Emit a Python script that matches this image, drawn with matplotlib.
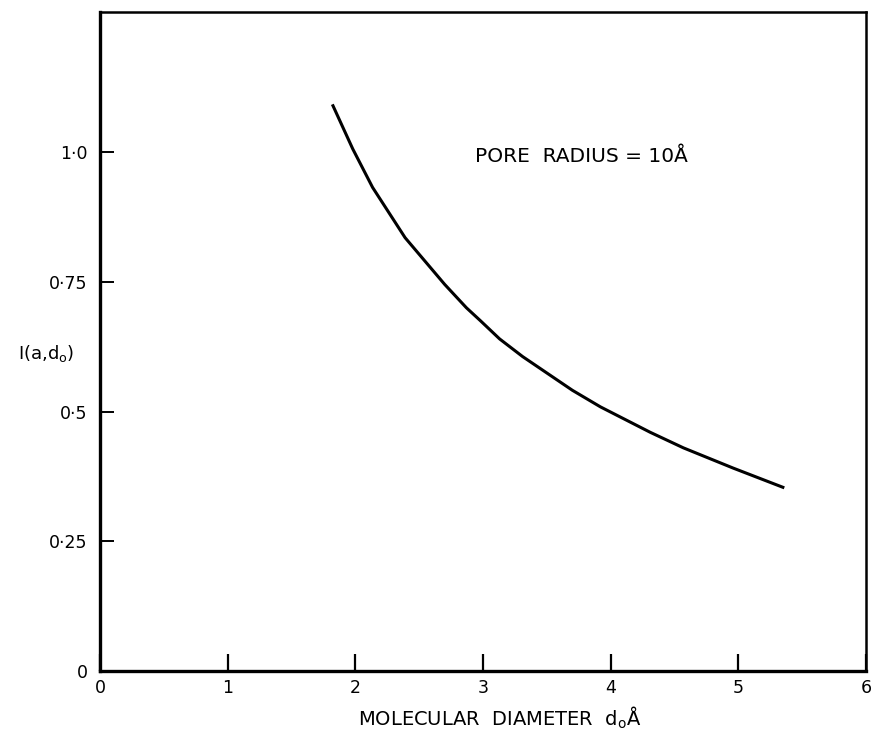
import matplotlib
matplotlib.use("Agg")
import matplotlib.pyplot as plt

# Data
diameter = [1.82, 1.98, 2.135, 2.39, 2.70, 2.87, 2.98, 3.13, 3.31, 3.70, 3.92, 4.31, 4.57, 4.96, 5.36]
intensity = [1.092, 1.006, 0.932, 0.835, 0.745, 0.700, 0.675, 0.640, 0.606, 0.541, 0.509, 0.460, 0.430, 0.391, 0.353]

x_ticks = [0, 1, 2, 3, 4, 5, 6]
x_tick_labels = ["0", "1", "2", "3", "4", "5", "6"]
y_ticks = [0, 0.25, 0.5, 0.75, 1.0]
y_tick_labels = ["0", "0·25", "0·5", "0·75", "1·0"]

plt.rcParams['font.family'] = ['DejaVu Sans']

W, H = 871, 735
fig = plt.figure(figsize=(W / 100, H / 100), dpi=100)
left, right = 100 / W, 866 / W
bottom, top = 1 - 671 / H, 1 - 12 / H
ax = fig.add_axes([left, bottom, right - left, top - bottom])

ax.plot(diameter, intensity, color="black", lw=2.2, solid_joinstyle="round",
        solid_capstyle="butt")

ax.set_xlim(0, 6)
ax.set_ylim(0, 1.27)
ax.set_xticks(x_ticks)
ax.set_xticklabels(x_tick_labels)
ax.set_yticks(y_ticks)
ax.set_yticklabels(y_tick_labels)

ax.tick_params(axis="x", direction="in", length=12, width=1.6, pad=6, labelsize=12.5)
ax.tick_params(axis="y", direction="in", length=10, width=1.4, pad=9, labelsize=12.5)

for side in ["left", "bottom"]:
    ax.spines[side].set_linewidth(2.4)
for side in ["top", "right"]:
    ax.spines[side].set_linewidth(1.8)

ax.text(3.77, 0.992, "PORE  RADIUS = 10Å", fontsize=14.5, ha="center", va="center")

fig.text(500 / W, 1 - 718 / H, r"MOLECULAR  DIAMETER  d$_\mathrm{o}$Å", fontsize=14,
         ha="center", va="center")
fig.text(46 / W, 1 - 353 / H, r"I(a,d$_\mathrm{o}$)", fontsize=13,
         ha="center", va="center")

fig.savefig("out.png", dpi=100)
